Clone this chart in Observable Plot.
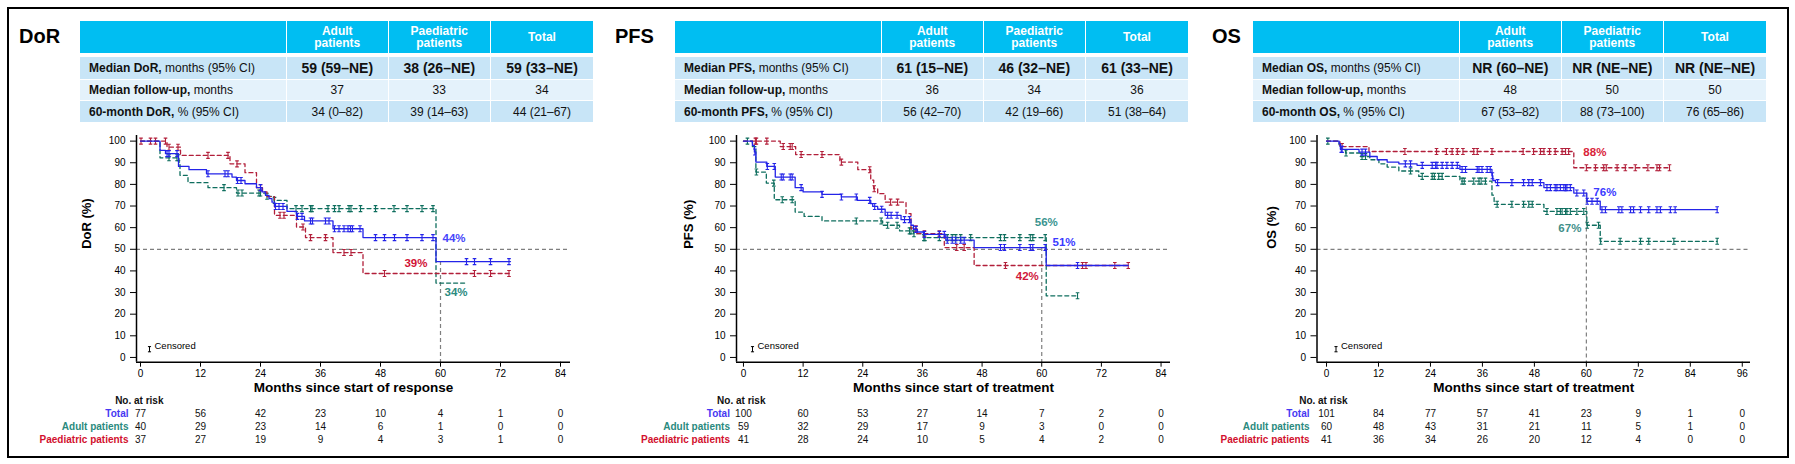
<!DOCTYPE html>
<html>
<head>
<meta charset="utf-8">
<script src="https://cdn.jsdelivr.net/npm/d3@7"></script>
<script src="https://cdn.jsdelivr.net/npm/@observablehq/plot@0.6"></script>
<style>
  html,body{margin:0;padding:0;background:#fff;}
  #root{position:relative;width:1795px;height:464px;overflow:hidden;font-family:"Liberation Sans",Arial,Helvetica,sans-serif;color:#111;}
  .border{position:absolute;left:7px;top:7px;width:1782px;height:451px;border:2px solid #000;box-sizing:border-box;}
  .title{position:absolute;font-weight:bold;font-size:20px;line-height:20px;color:#000;}
  .cell{position:absolute;box-sizing:border-box;display:flex;align-items:center;font-size:12px;white-space:nowrap;}
  .hd{background:#00BEF2;color:#fff;font-weight:bold;justify-content:center;text-align:center;line-height:12.5px;white-space:pre;}
  .dark{background:#C8E5F7;}
  .light{background:#E4F2FB;}
  .lab{padding-left:9px;}
  .val{justify-content:center;}
  .big{font-weight:bold;font-size:14px;}
  .plotbox{position:absolute;}
</style>
</head>
<body>
<div id="root"><div class="border"></div></div>
<script>
// ---------------- DATA ----------------
const tableHeads = ["Adult\npatients", "Paediatric\npatients", "Total"];

const dorRowBold = ["Median DoR,", "Median follow-up,", "60-month DoR,"];
const dorRowRest = [" months (95% CI)", " months", " % (95% CI)"];
const dorAdultVals = ["59 (59–NE)", "37", "34 (0–82)"];
const dorPaedVals = ["38 (26–NE)", "33", "39 (14–63)"];
const dorTotalVals = ["59 (33–NE)", "34", "44 (21–67)"];

const pfsRowBold = ["Median PFS,", "Median follow-up,", "60-month PFS,"];
const pfsRowRest = [" months (95% CI)", " months", " % (95% CI)"];
const pfsAdultVals = ["61 (15–NE)", "36", "56 (42–70)"];
const pfsPaedVals = ["46 (32–NE)", "34", "42 (19–66)"];
const pfsTotalVals = ["61 (33–NE)", "36", "51 (38–64)"];

const osRowBold = ["Median OS,", "Median follow-up,", "60-month OS,"];
const osRowRest = [" months (95% CI)", " months", " % (95% CI)"];
const osAdultVals = ["NR (60–NE)", "48", "67 (53–82)"];
const osPaedVals = ["NR (NE–NE)", "50", "88 (73–100)"];
const osTotalVals = ["NR (NE–NE)", "50", "76 (65–86)"];

const dorTicks = [0, 12, 24, 36, 48, 60, 72, 84];
const pfsTicks = [0, 12, 24, 36, 48, 60, 72, 84];
const osTicks = [0, 12, 24, 36, 48, 60, 72, 84, 96];

const riskRows = ["No. at risk", "Total", "Adult patients", "Paediatric patients"];
const dorRiskTotal = [77, 56, 42, 23, 10, 4, 1, 0];
const dorRiskAdult = [40, 29, 23, 14, 6, 1, 0, 0];
const dorRiskPaed = [37, 27, 19, 9, 4, 3, 1, 0];
const pfsRiskTotal = [100, 60, 53, 27, 14, 7, 2, 0];
const pfsRiskAdult = [59, 32, 29, 17, 9, 3, 0, 0];
const pfsRiskPaed = [41, 28, 24, 10, 5, 4, 2, 0];
const osRiskTotal = [101, 84, 77, 57, 41, 23, 9, 1, 0];
const osRiskAdult = [60, 48, 43, 31, 21, 11, 5, 1, 0];
const osRiskPaed = [41, 36, 34, 26, 20, 12, 4, 0, 0];

// Kaplan-Meier steps [month, survival %], censor months, last follow-up month
const dorTotSteps = [[0,100],[3.9,95.7],[5.0,94.2],[7.6,88.3],[9.7,86.8],[13.2,84.9],[18.3,83.4],[19.2,81.8],[20.9,80.3],[23.2,78.5],[24.3,76.5],[25.0,74.9],[25.7,73.4],[26.3,71.8],[26.8,69.8],[29.3,67.5],[31.2,65.2],[32.8,63.1],[38.5,59.5],[44.5,55.4],[59.1,44.3]];
const dorTotCens = [5.3,5.7,7.3,13.5,16.9,17.5,19.4,20.1,24.0,27.0,27.7,28.5,31.4,32.3,34.0,34.4,37.0,37.7,38.8,39.7,40.7,41.5,42.0,42.4,43.9,47.0,48.8,50.8,53.3,56.3,58.5,65.2,66.8,70.0,73.7];
const dorTotEnd = 74;
const dorAduSteps = [[0,100],[3.9,92.3],[7.7,90.3],[7.9,84.2],[9.5,80.8],[13.5,78.5],[19.2,76.0],[25.0,74.5],[26.7,72.6],[29.3,68.8],[59.1,34.4]];
const dorAduCens = [5.7,7.3,7.6,16.7,19.5,20.3,23.7,24.0,25.3,26.8,31.1,32.3,34.0,34.3,37.5,38.8,39.7,41.7,42.1,44.0,47.0,50.7,53.3,56.3,58.5];
const dorAduEnd = 65;
const dorPaeSteps = [[0,100],[5.3,97.2],[8.0,93.4],[17.9,89.5],[20.9,85.4],[23.2,78.5],[24.4,76.5],[25.3,74.3],[26.8,65.7],[31.2,60.3],[33.0,55.4],[38.5,48.5],[44.5,38.8]];
const dorPaeCens = [0.1,2.0,3.0,5.0,5.7,7.5,13.5,17.5,19.3,24.0,27.9,28.7,32.5,34.0,37.0,40.7,42.1,48.8,66.8,70.0,73.7];
const dorPaeEnd = 74;

const pfsTotSteps = [[0,100],[1.8,98],[2.2,95],[2.5,90.3],[4.7,88.3],[6.4,83.4],[10.4,78.5],[12.0,76.5],[15.8,75.4],[19.7,74.2],[22.9,72.6],[25.6,71.1],[26.0,69.8],[27.0,68.5],[28.5,65.7],[31.7,63.7],[33.7,61.1],[34.2,59.2],[35.0,58.0],[36.2,56.9],[40.7,54.2],[46.4,50.8],[60.9,42.5]];
const pfsTotCens = [2.3,4.8,6.2,7.6,8.0,9.4,9.8,11.6,15.8,19.7,22.7,25.4,26.4,27.8,29.0,29.7,30.9,32.4,33.4,34.7,36.4,39.4,40.4,41.0,42.0,42.7,43.7,44.4,51.7,52.5,55.6,57.7,58.2,60.7,67.2];
const pfsTotEnd = 77.4;
const pfsAduSteps = [[0,100],[1.8,97.5],[2.5,85.7],[4.6,80.6],[6.2,72.9],[10.4,67.2],[12.2,65.2],[15.8,63.1],[28.0,61.1],[31.4,58.5],[34.2,57.2],[36.2,55.4],[60.9,28.5]];
const pfsAduCens = [0.8,2.6,6.1,7.8,9.8,22.7,27.7,29.0,30.9,33.4,33.7,34.3,36.3,36.5,39.4,41.0,42.0,42.7,43.7,45.7,51.7,52.5,55.6,57.7,58.2,60.7,67.2];
const pfsAduEnd = 67.2;
const pfsPaeSteps = [[0,100],[7.4,97.5],[10.5,93.8],[19.4,90.3],[23.0,86.8],[25.6,82.0],[26.2,78.0],[27.0,75.7],[28.5,71.8],[32.7,66.5],[33.7,59.5],[34.9,57.2],[40.4,50.8],[46.4,42.5]];
const pfsPaeCens = [2.4,2.6,4.7,8.0,9.4,9.8,11.6,15.8,19.7,25.4,26.3,29.6,31.0,34.7,36.4,39.4,42.9,44.4,52.7,68.2,68.9,74.7,77.4];
const pfsPaeEnd = 77.4;

const osTotSteps = [[0,100],[2.9,98.8],[3.2,96.2],[7.5,94.9],[10.0,92.9],[11.7,91.4],[14.0,90.3],[16.7,89.5],[20.9,88.8],[30.8,86.9],[38.2,84.0],[38.4,81.8],[39.0,80.8],[50.2,78.5],[57.1,76.0],[60.1,72.2],[63.2,68.3]];
const osTotCens = [3.4,3.6,8.2,9.0,18.2,19.4,22.1,24.4,25.2,25.5,26.7,27.8,29.0,30.2,31.3,32.1,34.8,35.2,35.9,37.1,37.8,38.3,39.5,42.8,45.5,46.7,47.5,49.4,50.9,51.7,52.8,53.2,54.0,54.8,55.2,55.5,56.3,57.8,59.4,60.2,61.3,62.5,63.6,64.4,67.5,68.2,70.2,70.9,72.5,74.4,76.3,77.1,79.4,80.5,90.2];
const osTotEnd = 90.2;
const osAduSteps = [[0,100],[2.9,98.3],[3.4,96.2],[4.4,94.5],[7.8,92.9],[10.0,91.4],[12.1,89.5],[14.0,88.0],[16.7,86.2],[21.3,83.7],[30.8,81.5],[38.2,75.0],[38.7,70.8],[50.2,67.5],[60.1,61.1],[63.2,53.7]];
const osAduCens = [0.3,4.5,8.2,9.0,19.4,22.1,24.4,24.9,25.9,26.7,31.3,31.8,34.0,35.2,35.7,36.7,39.4,42.8,45.5,46.7,47.5,50.9,53.2,54.0,54.4,55.2,55.5,56.3,57.8,59.4,60.2,62.8,63.3,67.8,72.5,74.4,80.2,90.2];
const osAduEnd = 90.2;
const osPaeSteps = [[0,100],[3.1,97.5],[9.8,95.2],[57.1,87.7]];
const osPaeCens = [3.6,18.1,25.4,27.7,29.0,30.2,31.5,34.0,34.8,38.2,45.4,47.8,49.4,50.2,51.5,52.8,54.4,55.2,55.9,60.0,62.1,64.0,64.6,67.1,69.0,71.3,74.2,76.3,76.9,79.2];
const osPaeEnd = 79.2;

// ---------------- STYLE ----------------
const C = {
  total: "#2424E8", adult: "#0E6E5E", paed: "#B21F3A",
  totalTxt: "#4638F2", adultTxt: "#2A8A7E", paedTxt: "#D2102E",
  ref: "#7f7f7f"
};
const FONT = '"Liberation Sans", Arial, Helvetica, sans-serif';
const root = document.getElementById("root");

// ---------------- TABLES ----------------
function addDiv(cls, css, html) {
  const d = document.createElement("div");
  d.className = cls;
  Object.assign(d.style, css);
  d.innerHTML = html;
  root.appendChild(d);
  return d;
}
function drawTable(left, titleLeft, title, bold, rest, cols) {
  addDiv("title", {left: titleLeft + "px", top: "26px"}, title);
  const colL = [0, 207, 309, 411];
  const colW = [205.5, 100.5, 100.5, 102];
  const rowT = [21, 56.5, 79.5, 101];
  const rowH = [32, 22, 20.5, 21];
  for (let c = 0; c < 4; c++) {
    addDiv("cell hd", {left: (left + colL[c]) + "px", top: rowT[0] + "px", width: colW[c] + "px", height: rowH[0] + "px"},
      c === 0 ? "" : tableHeads[c - 1]);
  }
  for (let r = 0; r < 3; r++) {
    const shade = r === 1 ? "light" : "dark";
    addDiv("cell lab " + shade, {left: left + "px", top: rowT[r + 1] + "px", width: colW[0] + "px", height: rowH[r + 1] + "px"},
      "<b>" + bold[r] + "</b>" + rest[r].replace(/ /g, "&nbsp;"));
    for (let c = 0; c < 3; c++) {
      addDiv("cell val " + shade + (r === 0 ? " big" : ""),
        {left: (left + colL[c + 1]) + "px", top: rowT[r + 1] + "px", width: colW[c + 1] + "px", height: rowH[r + 1] + "px"},
        cols[c][r]);
    }
  }
}
drawTable(80, 19, "DoR", dorRowBold, dorRowRest, [dorAdultVals, dorPaedVals, dorTotalVals]);
drawTable(675, 615, "PFS", pfsRowBold, pfsRowRest, [pfsAdultVals, pfsPaedVals, pfsTotalVals]);
drawTable(1253, 1212, "OS", osRowBold, osRowRest, [osAdultVals, osPaedVals, osTotalVals]);

// ---------------- KM PLOTS ----------------
const ibeam = {
  draw(ctx, size) {
    const r = Math.sqrt(size / Math.PI), w = r * 0.6;
    ctx.moveTo(-w, -r); ctx.lineTo(w, -r);
    ctx.moveTo(0, -r); ctx.lineTo(0, r);
    ctx.moveTo(-w, r); ctx.lineTo(w, r);
  }
};
function survAt(steps, t) {
  let s = steps[0][1];
  for (const [tt, ss] of steps) if (tt <= t) s = ss;
  return s;
}
const Y_DOMAIN = [-2.2, 102.6];
const baseStyle = {background: "transparent", color: "#000", fontFamily: FONT, overflow: "visible", maxWidth: "none"};

function place(el, left, top) {
  const box = document.createElement("div");
  box.className = "plotbox";
  box.style.left = left + "px";
  box.style.top = top + "px";
  box.appendChild(el);
  root.appendChild(box);
}

function kmPanel(p) {
  const marks = [];
  marks.push(Plot.ruleY([50], {stroke: C.ref, strokeWidth: 1.2, strokeDasharray: "4,3"}));
  const tot = p.groups[p.groups.length - 1];
  marks.push(Plot.ruleX([60], {y1: survAt(tot.steps, 60), y2: Y_DOMAIN[0], stroke: C.ref, strokeWidth: 1.2, strokeDasharray: "4,3"}));
  for (const g of p.groups) {
    const pts = g.steps.map(([t, s]) => ({t, s}));
    pts.push({t: g.end, s: g.steps[g.steps.length - 1][1]});
    marks.push(Plot.line(pts, {x: "t", y: "s", curve: "step-after", stroke: g.color, strokeWidth: 1.3, strokeDasharray: g.dash}));
    const cens = g.censors.map(t => ({t, s: survAt(g.steps, t)}));
    marks.push(Plot.dot(cens, {x: "t", y: "s", symbol: ibeam, r: 3, fill: "none", stroke: g.color, strokeWidth: 1.1}));
  }
  marks.push(Plot.ruleX([p.xDomain[0]], {stroke: "#000", strokeWidth: 1.5}));
  marks.push(Plot.ruleY([Y_DOMAIN[0]], {stroke: "#000", strokeWidth: 1.5}));
  marks.push(Plot.axisY({ticks: d3.range(0, 101, 10), tickSize: 6, tickPadding: 5, label: null, fontSize: 10}));
  marks.push(Plot.axisX({ticks: p.ticks, tickSize: 5, tickPadding: 3, label: null, fontSize: 10}));
  marks.push(Plot.text([p.yLabel], {frameAnchor: "left", rotate: -90, dx: p.yLabelDx, fontWeight: "bold", fontSize: 13}));
  marks.push(Plot.text([p.xLabel], {frameAnchor: "bottom", dy: 30, fontWeight: "bold", fontSize: 13.5}));
  marks.push(Plot.dot([0], {frameAnchor: "bottom-left", dx: p.legDx, dy: -13, symbol: ibeam, r: 2.6, fill: "none", stroke: "#000", strokeWidth: 1}));
  marks.push(Plot.text(["Censored"], {frameAnchor: "bottom-left", dx: p.legDx + 5, dy: -13, textAnchor: "start", fontSize: 9.5}));
  for (const a of p.annos) {
    marks.push(Plot.text([a.value], {x: () => 60, y: d => d, text: d => d + "%", dx: a.dx, dy: a.dy, textAnchor: a.anchor,
      fill: a.color, fontWeight: "bold", fontSize: 11.5}));
  }
  const svg = Plot.plot({
    width: p.w, height: 280, marginLeft: p.ml, marginRight: p.mr, marginTop: 10, marginBottom: 43.3,
    x: {domain: p.xDomain}, y: {domain: Y_DOMAIN},
    style: baseStyle,
    marks
  });
  place(svg, p.left, 125);

  // at-risk table
  const rm = [];
  const series = [["Total", p.risk[0], C.totalTxt], ["Adult patients", p.risk[1], C.adultTxt], ["Paediatric patients", p.risk[2], C.paedTxt]];
  rm.push(Plot.text([riskRows[0]], {x: () => 0, y: d => d, dx: p.nrDx, textAnchor: "end", fontWeight: "bold", fontSize: 10, fill: "#111"}));
  for (const [name, vals, col] of series) {
    rm.push(Plot.text([name], {x: () => 0, y: d => d, dx: p.rowDx, textAnchor: "end", fontWeight: "bold", fontSize: 10, fill: col}));
    rm.push(Plot.text(vals.map((n, i) => ({t: p.ticks[i], n})), {x: "t", y: () => name, text: "n", fontSize: 10, fill: "#111"}));
  }
  const svg2 = Plot.plot({
    width: p.w, height: 60, marginLeft: p.ml, marginRight: p.mr, marginTop: 0, marginBottom: 0,
    x: {domain: p.xDomain, axis: null},
    y: {type: "point", domain: riskRows, range: [9, 50.7], padding: 0, axis: null},
    style: baseStyle,
    marks: rm
  });
  place(svg2, p.left, 390);
}

const dash = "4,3";
kmPanel({
  left: 0, w: 600, ml: 136, mr: 30, xDomain: [-0.8, 86], ticks: dorTicks,
  yLabel: "DoR (%)", yLabelDx: -50, xLabel: "Months since start of response", legDx: 13,
  nrDx: 23, rowDx: -12,
  risk: [dorRiskTotal, dorRiskAdult, dorRiskPaed],
  groups: [
    {steps: dorAduSteps, censors: dorAduCens, end: dorAduEnd, color: C.adult, dash},
    {steps: dorPaeSteps, censors: dorPaeCens, end: dorPaeEnd, color: C.paed, dash},
    {steps: dorTotSteps, censors: dorTotCens, end: dorTotEnd, color: C.total, dash: null}
  ],
  annos: [
    {value: parseInt(dorTotalVals[2]), color: "#4646FA", dx: 2, dy: -23.5, anchor: "start"},
    {value: parseInt(dorPaedVals[2]), color: "#D11236", dx: -13, dy: -9.6, anchor: "end"},
    {value: parseInt(dorAdultVals[2]), color: "#2B8A80", dx: 4, dy: 8.3, anchor: "start"}
  ]
});
kmPanel({
  left: 600, w: 600, ml: 136, mr: 30, xDomain: [-1.4, 85.9], ticks: pfsTicks,
  yLabel: "PFS (%)", yLabelDx: -48, xLabel: "Months since start of treatment", legDx: 16,
  nrDx: 22, rowDx: -13.5,
  risk: [pfsRiskTotal, pfsRiskAdult, pfsRiskPaed],
  groups: [
    {steps: pfsAduSteps, censors: pfsAduCens, end: pfsAduEnd, color: C.adult, dash},
    {steps: pfsPaeSteps, censors: pfsPaeCens, end: pfsPaeEnd, color: C.paed, dash},
    {steps: pfsTotSteps, censors: pfsTotCens, end: pfsTotEnd, color: C.total, dash: null}
  ],
  annos: [
    {value: parseInt(pfsAdultVals[2]), color: "#3A9490", dx: -7, dy: -13.8, anchor: "start"},
    {value: parseInt(pfsTotalVals[2]), color: "#3B3BFF", dx: 10.8, dy: -4.9, anchor: "start"},
    {value: parseInt(pfsPaedVals[2]), color: "#D0183A", dx: -26, dy: 9.9, anchor: "start"}
  ]
});
kmPanel({
  left: 1195, w: 600, ml: 121.5, mr: 45, xDomain: [-2.2, 97.9], ticks: osTicks,
  yLabel: "OS (%)", yLabelDx: -45, xLabel: "Months since start of treatment", legDx: 19,
  nrDx: 21, rowDx: -17,
  risk: [osRiskTotal, osRiskAdult, osRiskPaed],
  groups: [
    {steps: osAduSteps, censors: osAduCens, end: osAduEnd, color: C.adult, dash},
    {steps: osPaeSteps, censors: osPaeCens, end: osPaeEnd, color: C.paed, dash},
    {steps: osTotSteps, censors: osTotCens, end: osTotEnd, color: C.total, dash: null}
  ],
  annos: [
    {value: parseInt(osPaedVals[2]), color: "#D9243A", dx: -3, dy: -14.9, anchor: "start"},
    {value: parseInt(osTotalVals[2]), color: "#3B3BFF", dx: 7, dy: -0.9, anchor: "start"},
    {value: parseInt(osAdultVals[2]), color: "#3F8F8A", dx: -5, dy: 15.8, anchor: "end"}
  ]
});
</script>
</body>
</html>
